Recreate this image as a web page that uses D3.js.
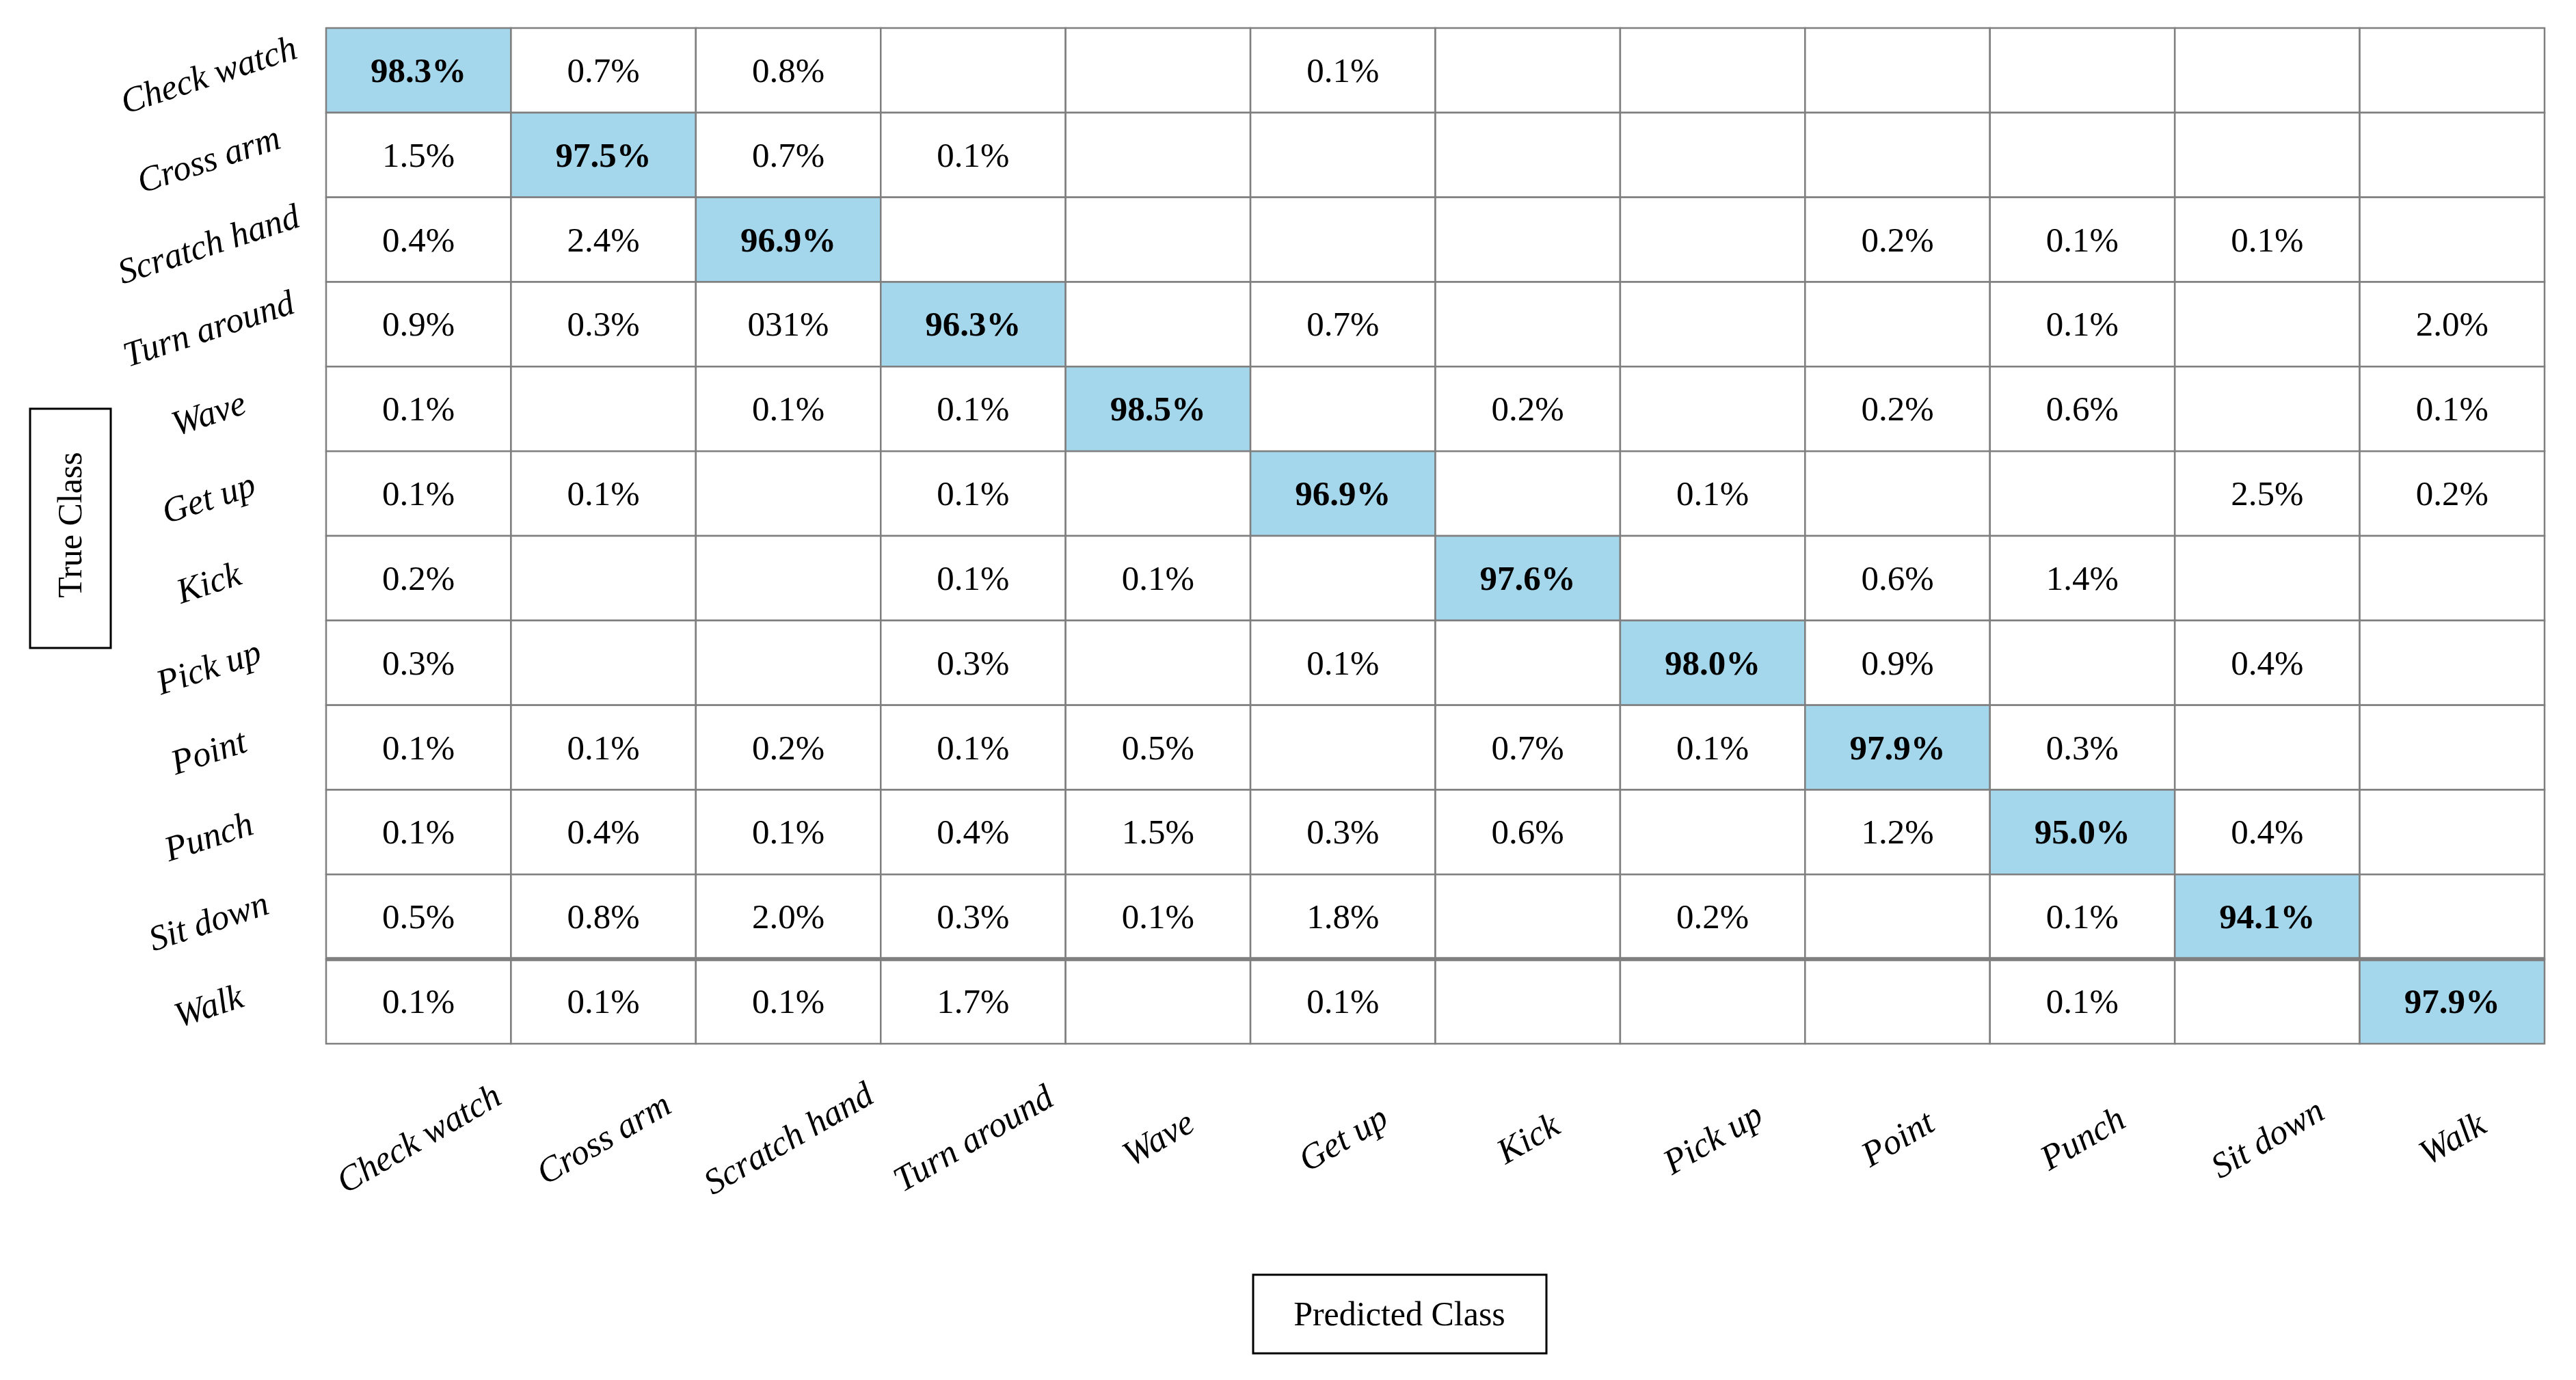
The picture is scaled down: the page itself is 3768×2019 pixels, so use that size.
<!DOCTYPE html>
<html>
<head>
<meta charset="utf-8">
<script src="https://cdn.jsdelivr.net/npm/d3@7"></script>
<style>
html, body { margin: 0; padding: 0; background: #ffffff; }
svg { display: block; }
</style>
</head>
<body>
<svg id="chart" width="3768" height="2019"></svg>
<script>
// ---- Data ----
const classes = ["Check watch", "Cross arm", "Scratch hand", "Turn around", "Wave", "Get up",
                 "Kick", "Pick up", "Point", "Punch", "Sit down", "Walk"];

// One row per true class; "" = empty cell. Values are percentages as printed.
const rowCheckWatch  = ["98.3", "0.7", "0.8", "",     "",     "0.1",  "",     "",     "",     "",     "",     ""];
const rowCrossArm    = ["1.5",  "97.5","0.7", "0.1",  "",     "",     "",     "",     "",     "",     "",     ""];
const rowScratchHand = ["0.4",  "2.4", "96.9","",     "",     "",     "",     "",     "0.2",  "0.1",  "0.1",  ""];
const rowTurnAround  = ["0.9",  "0.3", "031", "96.3", "",     "0.7",  "",     "",     "",     "0.1",  "",     "2.0"];
const rowWave        = ["0.1",  "",    "0.1", "0.1",  "98.5", "",     "0.2",  "",     "0.2",  "0.6",  "",     "0.1"];
const rowGetUp       = ["0.1",  "0.1", "",    "0.1",  "",     "96.9", "",     "0.1",  "",     "",     "2.5",  "0.2"];
const rowKick        = ["0.2",  "",    "",    "0.1",  "0.1",  "",     "97.6", "",     "0.6",  "1.4",  "",     ""];
const rowPickUp      = ["0.3",  "",    "",    "0.3",  "",     "0.1",  "",     "98.0", "0.9",  "",     "0.4",  ""];
const rowPoint       = ["0.1",  "0.1", "0.2", "0.1",  "0.5",  "",     "0.7",  "0.1",  "97.9", "0.3",  "",     ""];
const rowPunch       = ["0.1",  "0.4", "0.1", "0.4",  "1.5",  "0.3",  "0.6",  "",     "1.2",  "95.0", "0.4",  ""];
const rowSitDown     = ["0.5",  "0.8", "2.0", "0.3",  "0.1",  "1.8",  "",     "0.2",  "",     "0.1",  "94.1", ""];
const rowWalk        = ["0.1",  "0.1", "0.1", "1.7",  "",     "0.1",  "",     "",     "",     "0.1",  "",     "97.9"];

const rows = [rowCheckWatch, rowCrossArm, rowScratchHand, rowTurnAround, rowWave, rowGetUp,
              rowKick, rowPickUp, rowPoint, rowPunch, rowSitDown, rowWalk];

const xTitle = "Predicted Class";
const yTitle = "True Class";

// ---- Build cell table ----
const cells = [];
rows.forEach((r, i) => r.forEach((v, j) => {
  cells.push({ trueC: classes[i], predC: classes[j], value: v, diag: i === j });
}));

// ---- Layout ----
const svg = d3.select("#chart");
const x = d3.scaleBand().domain(classes).range([477, 3722]);
const y = d3.scaleBand().domain(classes).range([41, 1527]);
const bw = x.bandwidth(), bh = y.bandwidth();

const gridColor = "#7f7f7f";
const blue = "#a5d7ec";
const serif = "'Liberation Serif', 'Times New Roman', serif";

// Cells
svg.append("g").selectAll("rect").data(cells).join("rect")
  .attr("x", d => x(d.predC))
  .attr("y", d => y(d.trueC))
  .attr("width", bw)
  .attr("height", bh)
  .attr("fill", d => d.diag ? blue : "#ffffff")
  .attr("stroke", gridColor)
  .attr("stroke-width", 2.5);

// Thicker separator above the last row
svg.append("line")
  .attr("x1", x.range()[0]).attr("x2", x.range()[1])
  .attr("y1", y("Walk")).attr("y2", y("Walk"))
  .attr("stroke", gridColor).attr("stroke-width", 6);

// Cell texts
svg.append("g").selectAll("text").data(cells.filter(d => d.value !== "")).join("text")
  .attr("x", d => x(d.predC) + bw / 2)
  .attr("y", d => y(d.trueC) + bh / 2)
  .attr("text-anchor", "middle")
  .attr("dominant-baseline", "central")
  .attr("font-family", serif)
  .attr("font-size", 51)
  .attr("font-weight", d => d.diag ? "bold" : "normal")
  .attr("fill", "#000")
  .text(d => d.value + "%");

// Row labels (true class)
svg.append("g").selectAll("text").data(classes).join("text")
  .attr("transform", d => `translate(305,${y(d) + bh / 2 + 6}) rotate(-18)`)
  .attr("text-anchor", "middle")
  .attr("dominant-baseline", "central")
  .attr("font-family", serif)
  .attr("font-style", "italic")
  .attr("font-size", 52)
  .attr("fill", "#000")
  .text(d => d);

// Column labels (predicted class)
svg.append("g").selectAll("text").data(classes).join("text")
  .attr("transform", d => `translate(${x(d) + bw / 2},1665) rotate(-30)`)
  .attr("text-anchor", "middle")
  .attr("dominant-baseline", "central")
  .attr("font-family", serif)
  .attr("font-style", "italic")
  .attr("font-size", 52)
  .attr("fill", "#000")
  .text(d => d);

// Y title box
svg.append("rect")
  .attr("x", 44).attr("y", 598).attr("width", 118).attr("height", 350)
  .attr("fill", "none").attr("stroke", "#000").attr("stroke-width", 3);
svg.append("text")
  .attr("transform", "translate(102,768) rotate(-90)")
  .attr("text-anchor", "middle")
  .attr("dominant-baseline", "central")
  .attr("font-family", serif)
  .attr("font-size", 50)
  .attr("fill", "#000")
  .text(yTitle);

// X title box
svg.append("rect")
  .attr("x", 1833).attr("y", 1865).attr("width", 429).attr("height", 115)
  .attr("fill", "none").attr("stroke", "#000").attr("stroke-width", 3);
svg.append("text")
  .attr("x", 2047).attr("y", 1922)
  .attr("text-anchor", "middle")
  .attr("dominant-baseline", "central")
  .attr("font-family", serif)
  .attr("font-size", 50)
  .attr("fill", "#000")
  .text(xTitle);
</script>
</body>
</html>
